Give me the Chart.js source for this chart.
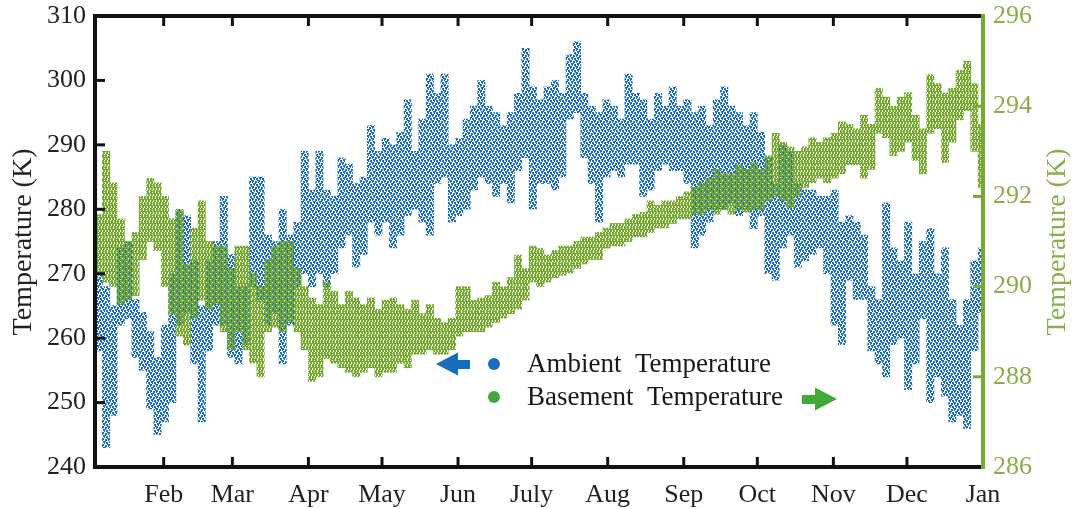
<!DOCTYPE html>
<html>
<head>
<meta charset="utf-8">
<script src="https://cdn.jsdelivr.net/npm/chart.js@4.4.1/dist/chart.umd.min.js"></script>
<style>
  html, body { margin: 0; padding: 0; background: #fff; }
</style>
</head>
<body>
<canvas id="grafico" width="1080" height="509"></canvas>
<script>
// 3-day bins, first one starts on day 3 of the year
const binStart = 3;
const binDays = 3;

// ambient temperature, daily spread per bin (K, left axis)
const ambLow = [
  258, 243, 248, 262, 263, 257, 255, 249, 245, 247,
  250, 262, 264, 256, 247, 258, 262, 262, 257, 256,
  259, 268, 266, 262, 264, 256, 262, 268, 270, 268,
  270, 268, 270, 274, 276, 271, 273, 278, 276, 278,
  274, 276, 279, 280, 278, 276, 284, 285, 278, 279,
  280, 283, 285, 284, 282, 284, 281, 286, 288, 280,
  284, 284, 283, 285, 294, 295, 288, 284, 278, 285,
  286, 285, 287, 287, 282, 283, 286, 287, 286, 286,
  284, 274, 276, 278, 280, 280, 281, 279, 280, 277,
  279, 270, 269, 274, 276, 271, 272, 273, 274, 270,
  262, 259, 269, 266, 266, 258, 256, 254, 259, 260,
  252, 256, 263, 250, 254, 251, 247, 248, 246, 258, 264
];
const ambHigh = [
  270, 268, 265, 274, 275, 266, 264, 261, 257, 262,
  270, 280, 279, 272, 265, 272, 275, 282, 273, 268,
  268, 285, 285, 276, 275, 280, 276, 278, 289, 283,
  289, 283, 282, 288, 287, 284, 285, 293, 289, 291,
  290, 292, 297, 289, 294, 301, 298, 301, 290, 291,
  294, 296, 300, 296, 295, 293, 295, 298, 305, 299,
  297, 299, 300, 298, 304, 306, 298, 296, 295, 297,
  296, 294, 301, 298, 297, 294, 298, 296, 299, 296,
  297, 295, 296, 293, 297, 299, 296, 295, 293, 295,
  292, 288, 284, 290, 289, 284, 283, 283, 282, 282,
  283, 278, 279, 278, 276, 268, 266, 281, 274, 272,
  278, 270, 275, 277, 270, 274, 266, 262, 266, 272, 274
];

// basement temperature, daily spread per bin (K, right axis)
const baseLow = [
  290.3, 290.1, 290, 289.6, 289.7, 289.8, 290.6, 291, 290.8, 290,
  289.4, 288.9, 288.7, 289.3, 289.7, 289.5, 289.6, 289, 288.6, 289,
  288.6, 288.3, 288, 289, 289.1, 289, 289.2, 289, 288.6, 287.9,
  288, 288.4, 288.3, 288.2, 288.1, 288, 288.1, 288.2, 288, 288.1,
  288.1, 288.3, 288.2, 288.5, 288.5, 288.6, 288.5, 288.5, 288.6, 288.9,
  289, 289, 289, 289.1, 289.2, 289.3, 289.4, 289.5, 289.7, 290.1,
  290, 290.1, 290.2, 290.25, 290.3, 290.4, 290.5, 290.6, 290.6, 290.85,
  290.9, 290.9, 291, 291.1, 291.1, 291.2, 291.3, 291.3, 291.4, 291.5,
  291.5, 291.6, 291.6, 291.7, 291.6, 291.7, 291.6, 291.7, 291.65, 291.7,
  291.7, 291.9, 292, 291.9, 291.75, 292, 292.2, 292.3, 292.4, 292.3,
  292.4, 292.5, 292.7, 292.7, 292.4, 292.6, 293.4, 293.3, 292.9, 293,
  293.2, 292.8, 292.5, 293.4, 293.5, 292.75, 293.2, 293.7, 293.9, 293, 292.2
];
const baseHigh = [
  291.6, 293, 292.3, 291.5, 291, 291.2, 292, 292.4, 292.3, 292,
  291.5, 291.7, 290.5, 291.3, 291.9, 291, 290.9, 290.9, 290.4, 290.9,
  290.9, 290.3, 290, 290.6, 290.9, 291, 291, 290.4, 290, 289.75,
  289.6, 290.1, 289.9, 289.6, 289.9, 289.75, 289.6, 289.75, 289.5, 289.7,
  289.75, 289.6, 289.5, 289.7, 289.4, 289.6, 289.3, 289.2, 289.3, 290,
  290, 289.7, 289.75, 289.8, 290.1, 290, 290.2, 290.7, 290.4, 290.9,
  290.85, 290.7, 290.8, 290.9, 290.9, 291, 291.1, 291.1, 291.2, 291.3,
  291.4, 291.4, 291.5, 291.6, 291.65, 291.9, 291.8, 291.9, 291.9, 292,
  292.1, 292.2, 292.3, 292.4, 292.6, 292.5, 292.5, 292.7, 292.6, 292.75,
  292.6, 292.9, 293.4, 293.2, 293.1, 293, 293.1, 293.3, 293.2, 293.3,
  293.4, 293.65, 293.6, 293.5, 293.8, 293.6, 294.4, 294.2, 294, 294.2,
  294.3, 293.8, 293.5, 294.7, 294.5, 294.3, 294.4, 294.8, 295, 294.5, 293.6
];

// month starts (day of year) and their labels
const monthDays = [31, 59, 90, 120, 151, 181, 212, 243, 273, 304, 334, 365];
const monthLabels = ["Feb", "Mar", "Apr", "May", "Jun", "July", "Aug", "Sep", "Oct", "Nov", "Dec", "Jan"];
const leftTicks = [250, 260, 270, 280, 290, 300];
const rightTicks = [288, 290, 292, 294];

const AZUL = "#166cc0";
const VERDE = "#74ab2c";
const VERDE_TXT = "#8aae4a";
const FONTE = "'Liberation Serif', 'Times New Roman', serif";

// small tile of dots used to fill the bands, so they read as a cloud of readings
function padraoPontos(cor, tam, pontos) {
  const c = document.createElement("canvas");
  c.width = tam; c.height = tam;
  const g = c.getContext("2d");
  g.fillStyle = cor;
  pontos.forEach(p => g.fillRect(p[0], p[1], p[2] || 2, p[3] || 2));
  return g.createPattern(c, "repeat");
}

function faixas(lo, hi) {
  return lo.map((v, i) => ({ x: binStart + i * binDays + binDays / 2, y: [v, hi[i]] }));
}

// scales keep a fixed footprint so the plot box stays put
function semFolga(s) {
  s.paddingTop = 0; s.paddingBottom = 0; s.paddingLeft = 0; s.paddingRight = 0;
}

const moldura = {
  id: "moldura",
  afterDatasetsDraw(chart) {
    const { ctx, chartArea: a, scales } = chart;
    const linha = (x1, y1, x2, y2) => { ctx.beginPath(); ctx.moveTo(x1, y1); ctx.lineTo(x2, y2); ctx.stroke(); };
    ctx.save();
    ctx.lineCap = "butt";
    ctx.lineWidth = 3;
    ctx.strokeStyle = "#111";
    monthDays.forEach(d => {
      const x = scales.x.getPixelForValue(d);
      linha(x, a.bottom, x, a.bottom - 10);
      linha(x, a.top, x, a.top + 10);
    });
    leftTicks.forEach(v => {
      const y = scales.yL.getPixelForValue(v);
      linha(a.left, y, a.left + 10, y);
    });
    ctx.lineWidth = 4;
    linha(a.left, a.top - 2, a.left, a.bottom + 2);
    linha(a.left - 2, a.top, a.right, a.top);
    linha(a.left - 2, a.bottom, a.right, a.bottom);
    ctx.strokeStyle = VERDE;
    ctx.lineWidth = 3;
    rightTicks.forEach(v => {
      const y = scales.yR.getPixelForValue(v);
      linha(a.right, y, a.right - 10, y);
    });
    ctx.lineWidth = 4;
    linha(a.right, a.top - 2, a.right, a.bottom + 2);

    // axis titles
    ctx.font = "28px " + FONTE;
    ctx.textAlign = "center";
    ctx.textBaseline = "middle";
    ctx.fillStyle = "#222";
    ctx.save();
    ctx.translate(24, 242);
    ctx.rotate(-Math.PI / 2);
    ctx.fillText("Temperature (K)", 0, 0);
    ctx.restore();
    ctx.fillStyle = VERDE_TXT;
    ctx.save();
    ctx.translate(1058, 242);
    ctx.rotate(-Math.PI / 2);
    ctx.fillText("Temperature (K)", 0, 0);
    ctx.restore();

    // legend with side arrows
    ctx.fillStyle = AZUL;
    ctx.beginPath();
    ctx.moveTo(436, 364); ctx.lineTo(458, 352.5); ctx.lineTo(458, 360);
    ctx.lineTo(470, 360); ctx.lineTo(470, 369); ctx.lineTo(458, 369);
    ctx.lineTo(458, 375.5); ctx.closePath(); ctx.fill();
    ctx.beginPath(); ctx.arc(494, 364, 6, 0, Math.PI * 2); ctx.fill();

    ctx.fillStyle = "#3faa38";
    ctx.beginPath(); ctx.arc(494, 397, 6, 0, Math.PI * 2); ctx.fill();
    ctx.beginPath();
    ctx.moveTo(837, 399); ctx.lineTo(815, 387.5); ctx.lineTo(815, 395);
    ctx.lineTo(802, 395); ctx.lineTo(802, 404); ctx.lineTo(815, 404);
    ctx.lineTo(815, 410.5); ctx.closePath(); ctx.fill();

    ctx.fillStyle = "#1a1a1a";
    ctx.font = "27px " + FONTE;
    ctx.textAlign = "left";
    ctx.fillText("Ambient  Temperature", 527, 365);
    ctx.fillText("Basement  Temperature", 527, 398);
    ctx.restore();
  }
};

new Chart(document.getElementById("grafico"), {
  type: "bar",
  data: {
    datasets: [{
      label: "Basement Temperature",
      data: faixas(baseLow, baseHigh),
      yAxisID: "yR",
      backgroundColor: padraoPontos(VERDE, 6, [[0, 0], [3, 0], [1, 2], [4, 2], [0, 4], [3, 4], [2, 1, 1, 1], [5, 3, 1, 1], [2, 5, 1, 1], [5, 1, 1, 1]]),
      grouped: false,
      barPercentage: 1,
      categoryPercentage: 1
    }, {
      label: "Ambient Temperature",
      data: faixas(ambLow, ambHigh),
      yAxisID: "yL",
      backgroundColor: padraoPontos(AZUL, 6, [[0, 0], [3, 1], [1, 3], [4, 4], [5, 0, 1, 1], [2, 5, 1, 1], [3, 3, 1, 1], [0, 2, 1, 1]]),
      grouped: false,
      barPercentage: 1,
      categoryPercentage: 1
    }]
  },
  options: {
    responsive: false,
    animation: false,
    layout: { padding: { top: 16, left: 0, right: 0, bottom: 0 } },
    plugins: { legend: { display: false }, tooltip: { enabled: false } },
    scales: {
      x: {
        type: "linear",
        offset: false,
        min: 3,
        max: 365,
        afterBuildTicks: s => { s.ticks = monthDays.map(v => ({ value: v })); },
        afterFit: s => { s.height = 42; semFolga(s); },
        grid: { display: false, drawTicks: false, offset: false },
        border: { display: false },
        ticks: {
          autoSkip: false,
          maxRotation: 0,
          padding: 13,
          color: "#222",
          font: { family: FONTE, size: 26 },
          callback: v => monthLabels[monthDays.indexOf(v)]
        }
      },
      yL: {
        position: "left",
        min: 240,
        max: 310,
        afterFit: s => { s.width = 95; semFolga(s); },
        grid: { display: false, drawTicks: false },
        border: { display: false },
        ticks: { stepSize: 10, padding: 9, color: "#222", font: { family: FONTE, size: 26 } }
      },
      yR: {
        position: "right",
        min: 286,
        max: 296,
        afterFit: s => { s.width = 97; semFolga(s); },
        grid: { display: false, drawTicks: false },
        border: { display: false },
        ticks: { stepSize: 2, padding: 10, color: VERDE_TXT, font: { family: FONTE, size: 26 } }
      }
    }
  },
  plugins: [moldura]
});
</script>
</body>
</html>
